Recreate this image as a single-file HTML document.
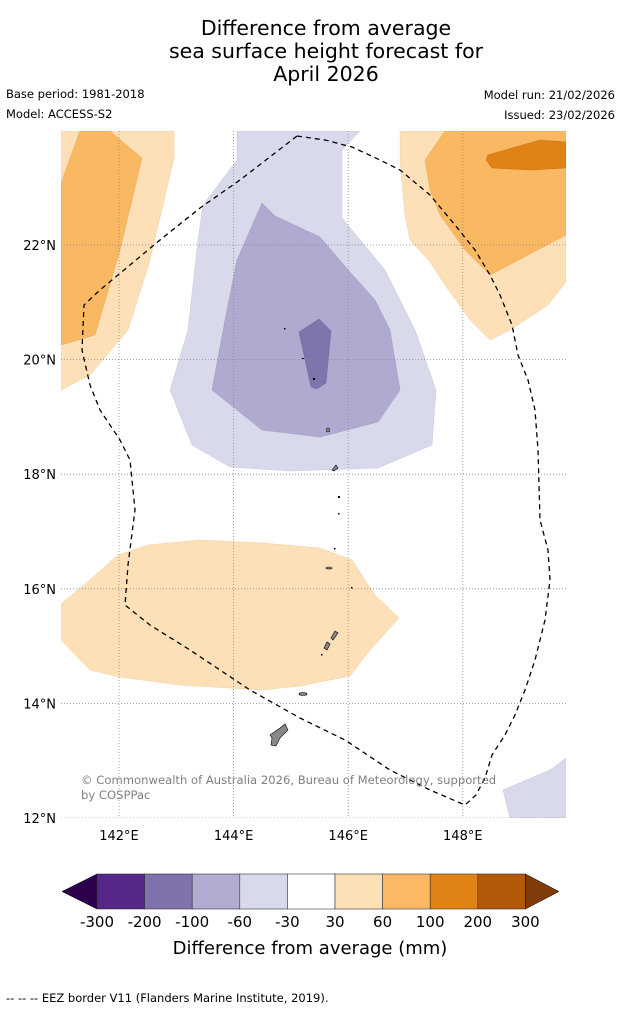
<!DOCTYPE html>
<html><head><meta charset="utf-8"><style>
body{margin:0;background:#fff;font-family:"DejaVu Sans","Liberation Sans",sans-serif}
svg{display:block}
</style></head><body>
<svg width="621" height="1011" viewBox="0 0 621 1011">
<g font-family="DejaVu Sans, Liberation Sans, sans-serif" fill="#000">
<text x="326" y="35" font-size="20.5" text-anchor="middle">Difference from average</text>
<text x="326" y="58" font-size="20.5" text-anchor="middle">sea surface height forecast for</text>
<text x="326" y="81" font-size="20.5" text-anchor="middle">April 2026</text>
<text x="6" y="98" font-size="11.5">Base period: 1981-2018</text>
<text x="6" y="118" font-size="11.5">Model: ACCESS-S2</text>
<text x="615" y="99" font-size="11.5" text-anchor="end">Model run: 21/02/2026</text>
<text x="615" y="119" font-size="11.5" text-anchor="end">Issued: 23/02/2026</text>
</g>
<defs><clipPath id="mc"><rect x="61" y="131" width="505" height="687"/></clipPath></defs>
<g clip-path="url(#mc)">
<g stroke-width="0.5">
<polygon fill="#d8d9ea" stroke="#c8c8e0" points="237,131 360,131 342,150 342,218 385,270 415,330 436,390 432,445 378,468 290,471 230,467 192,445 170,390 188,330 198,240 203,205 237,160"/>
<polygon fill="#b0aad0" stroke="#a09ac4" points="262,203 275,216 320,237 350,272 375,300 390,330 400,390 378,422 320,437 262,430 212,390 225,320 237,260"/>
<polygon fill="#7f74ab" stroke="#7068a0" points="299,332 319,319 331,331 326,383 317,389 311,387"/>
<polygon fill="#fde0b7" stroke="#f0d0a0" points="61,131 174,131 174,158 150,260 128,330 90,375 61,390"/>
<polygon fill="#fbb862" stroke="#e8a850" points="61,183 80,131 110,131 142,158 120,250 95,335 61,345"/>
<polygon fill="#fde0b7" stroke="#f0d0a0" points="400,131 566,131 566,282 548,305 510,330 490,340 470,320 445,285 430,262 410,240 405,215 400,160"/>
<polygon fill="#fbb862" stroke="#e8a850" points="425,160 445,131 566,131 566,235 490,275 465,250 440,215 430,190"/>
<polygon fill="#e08216" stroke="#c87010" points="488,155 540,140 566,142 566,168 530,170 492,168 486,160"/>
<polygon fill="#fde0b7" stroke="#f0d0a0" points="61,604 92,578 118,555 148,545 200,540 262,543 320,548 352,560 375,595 399,618 370,650 350,676 300,686 262,690 180,685 120,677 90,670 61,640"/>
<polygon fill="#d8d9ea" stroke="#c8c8e0" points="503,790 550,770 566,758 566,818 510,818"/>
</g>
<g stroke="#888" stroke-width="0.8" stroke-dasharray="1,2" id="grid"></g>
<g fill="#888" stroke="#000" stroke-width="0.6">
<path d="M270,735 L280,728 L285,724 L288,730 L280,738 L276,746 L271,745 L272,738Z"/>
<ellipse cx="303" cy="694" rx="4" ry="1.5"/>
<path d="M324,648 L327,642 L330,644 L327,650Z"/>
<path d="M331,638 L335,631 L338,633 L333,640Z"/>
<ellipse cx="329" cy="568" rx="3" ry="1"/>
<path d="M332,470 L336,465 L338,468 L334,471Z"/>
<ellipse cx="328" cy="430" rx="1.5" ry="2"/>
</g>
<g fill="#000">
<rect x="338" y="496" width="2" height="2"/><rect x="338" y="513" width="1.5" height="1.5"/><rect x="334" y="548" width="1.5" height="1.5"/><rect x="351" y="587" width="1.5" height="1.5"/><rect x="284" y="328" width="1.5" height="1.5"/><rect x="302" y="358" width="2" height="1"/><rect x="313" y="378" width="2" height="2"/><rect x="321" y="654" width="1.5" height="1.5"/>
</g>
<polyline fill="none" stroke="#000" stroke-width="1.3" stroke-dasharray="5,4" points="297,136 325,140 352,147 380,160 400,170 430,195 455,225 475,250 490,275 500,295 512,325 518,355 528,380 535,410 538,450 540,520 548,550 550,580 545,620 535,660 525,690 515,715 505,735 492,755 485,778 476,795 465,805 430,790 390,770 345,740 300,718 250,690 220,670 190,650 150,625 125,605 128,565 135,510 130,460 120,440 100,410 90,385 82,350 84,305 100,290 130,265 160,240 200,208 240,180 297,136"/>
<text x="81" y="784" font-size="11.6" fill="#808080" font-family="DejaVu Sans, sans-serif">© Commonwealth of Australia 2026, Bureau of Meteorology, supported</text>
<text x="81" y="799" font-size="11.6" fill="#808080" font-family="DejaVu Sans, sans-serif">by COSPPac</text>
</g>
<g id="axes" font-size="13" font-family="DejaVu Sans, sans-serif"></g>
<g id="cbar"></g>
<text x="310" y="954" font-size="18" text-anchor="middle" font-family="DejaVu Sans, sans-serif">Difference from average (mm)</text>
<text x="6" y="1002" font-size="11.5" font-family="DejaVu Sans, sans-serif">--  --  -- EEZ border V11 (Flanders Marine Institute, 2019).</text>
</svg>
<script>
const lonTicks=[142,144,146,148];
const latTicks=[22,20,18,16,14,12];
const levels=["-300","-200","-100","-60","-30","30","60","100","200","300"];
const binColors=["#542788","#8073ac","#b2abd2","#d8daeb","#ffffff","#fee0b6","#fdb863","#e08214","#b35806"];
const NS="http://www.w3.org/2000/svg";
const xL=lon=>119+(lon-142)*57.3, yL=lat=>245+(22-lat)*57.3;
const grid=document.getElementById('grid'), axes=document.getElementById('axes');
function mk(t,a,p){const e=document.createElementNS(NS,t);for(const k in a)e.setAttribute(k,a[k]);p.appendChild(e);return e;}
lonTicks.forEach(l=>{const x=xL(l);
const g=mk('line',{x1:x,x2:x,y1:131,y2:818},grid);


const t=mk('text',{x:x,y:840,'text-anchor':'middle'},axes);t.textContent=l+'°E';

});
latTicks.forEach(l=>{const y=yL(l);
const g=mk('line',{x1:61,x2:566,y1:y,y2:y},grid);


const t=mk('text',{x:56,y:y+5,'text-anchor':'end'},axes);t.textContent=l+'°N';

});
const cb=document.getElementById('cbar');const x0=97,w=47.6,y0=874,h=35;
const l=mk('polygon',{points:`${x0},${y0} ${x0},${y0+h} 62,${y0+h/2}`,fill:'#2d004b',stroke:'#000','stroke-width':0.5},cb);


binColors.forEach((c,i)=>{const r=mk('rect',{x:x0+i*w,y:y0,width:w,height:h,fill:c,stroke:'#333','stroke-width':0.6},cb);

});
const xe=x0+binColors.length*w;
const rr=mk('polygon',{points:`${xe},${y0} ${xe},${y0+h} 559,${y0+h/2}`,fill:'#7f3b08',stroke:'#000','stroke-width':0.5},cb);


levels.forEach((v,i)=>{const t=mk('text',{x:x0+i*w,y:927,'text-anchor':'middle','font-size':15,'font-family':'DejaVu Sans, sans-serif'},cb);t.textContent=v;

});
</script>
</body></html>
